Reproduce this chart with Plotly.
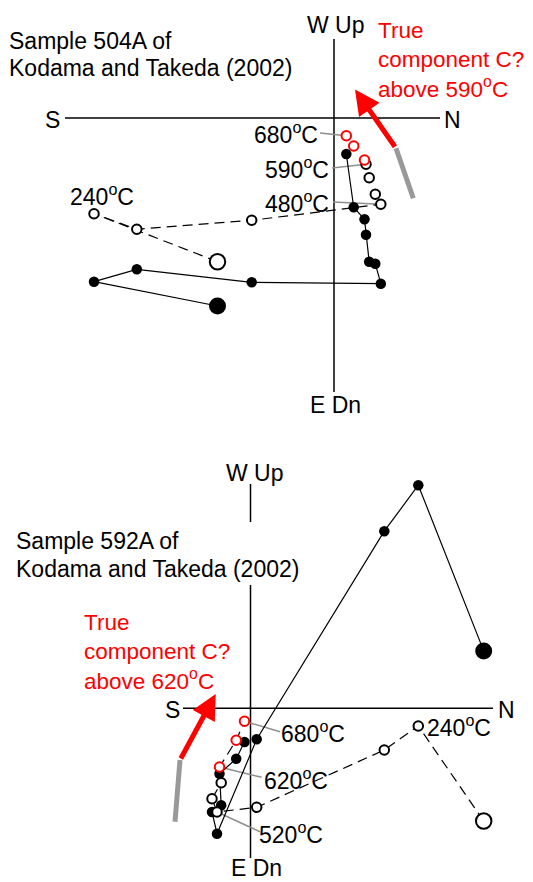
import plotly.graph_objects as go

# ---------------- Data (arbitrary units; origin at axis crossing) ----------------
# Sample 504A: N component (horizontal axis), W component (horizontal projection, filled),
# Up component (vertical projection, open)
n_504 = [-116.5, -240.0, -197.2, -82.3, 46.8, 41.3, 35.2, 32.0, 30.5, 19.7, 12.3]
w_504 = [-188.0, -163.7, -151.3, -164.3, -165.7, -145.7, -143.7, -116.7, -101.3, -89.3, -36.0]
up_504 = [-143.7, -95.7, -111.3, -102.3, -86.3, -76.3, -59.7, -46.3, -42.0, -28.0, -17.7]
red_504 = [False] * 8 + [True] * 3
labels_504 = {10: "680", 7: "590", 4: "480", 1: "240"}

# Sample 592A
n_592 = [233.2, 167.8, 133.8, 6.2, -33.5, -38.5, -29.3, -31.0, -14.3, -6.0]
w_592 = [57.4, 223.1, 177.1, -31.0, -125.4, -103.7, -97.0, -65.4, -50.4, -33.7]
up_592 = [-112.7, -17.7, -41.7, -99.0, -103.7, -90.4, -74.4, -58.7, -32.0, -13.0]
red_592 = [False] * 7 + [True] * 3
labels_592 = {9: "680", 7: "620", 4: "520", 1: "240"}

W, H = 533, 882
FONT = "Liberation Sans, Arial, sans-serif"
FS = 23

fig = go.Figure()


def add_sample(n, w, up, red, xa, ya, n_dash):
    fig.add_trace(go.Scatter(
        x=n, y=w, mode="lines", xaxis=xa, yaxis=ya, opacity=1,
        line=dict(color="black", width=1.2),
        showlegend=False, hoverinfo="skip"))
    fig.add_trace(go.Scatter(
        x=n, y=w, mode="markers", xaxis=xa, yaxis=ya, opacity=1,
        marker=dict(color="#000000", opacity=1, size=[17] + [10.5] * (len(n) - 1),
                    line=dict(width=0)),
        showlegend=False, hoverinfo="skip"))
    fig.add_trace(go.Scatter(
        x=n[:n_dash], y=up[:n_dash], mode="lines", xaxis=xa, yaxis=ya, opacity=1,
        line=dict(color="black", width=1.2, dash="10px,6px"),
        showlegend=False, hoverinfo="skip"))
    fig.add_trace(go.Scatter(
        x=n, y=up, mode="markers", xaxis=xa, yaxis=ya, opacity=1,
        marker=dict(color="white", opacity=1, size=[15.5] + [9.5] * (len(n) - 1),
                    line=dict(width=2, color=["#ff0000" if r else "#000000" for r in red])),
        showlegend=False, hoverinfo="skip"))


add_sample(n_504, w_504, up_504, red_504, "x", "y", 5)
add_sample(n_592, w_592, up_592, red_592, "x2", "y2", len(n_592))

# Pixel origins of the two diagrams
OX1, OY1 = 334.0, 118.0
OX2, OY2 = 250.5, 708.3

shapes = []


def seg(x0, y0, x1, y1, xr, yr, color="black", width=1.5):
    shapes.append(dict(type="line", x0=x0, y0=y0, x1=x1, y1=y1, xref=xr, yref=yr,
                       line=dict(color=color, width=width), layer="below"))


# Axes of diagram 1
seg(65 - OX1, 0, 440 - OX1, 0, "x", "y")
seg(0, OY1 - 39, 0, OY1 - 392, "x", "y")
# Axes of diagram 2 (vertical broken by the title text)
seg(183 - OX2, 0, 493 - OX2, 0, "x2", "y2")
seg(0, OY2 - 484, 0, OY2 - 522, "x2", "y2")
seg(0, OY2 - 585, 0, OY2 - 858, "x2", "y2")

GRAY = "#8f8f8f"
# Label connectors (from label end to the open point)
conn1 = {10: (320, 133), 7: (332, 168), 4: (333, 202)}
for i, (px, py) in conn1.items():
    seg(px - OX1, OY1 - py, n_504[i], up_504[i], "x", "y", GRAY, 1.5)
conn2 = {9: (280, 731.7), 7: (261.7, 777.3), 4: (260, 831.7)}
for i, (px, py) in conn2.items():
    seg(px - OX2, OY2 - py, n_592[i], up_592[i], "x2", "y2", GRAY, 1.5)

# Gray thick segments
seg(413.3 - OX1, OY1 - 198.3, 396 - OX1, OY1 - 148.3, "x", "y", "#999999", 5)
seg(175 - OX2, OY2 - 821.7, 180 - OX2, OY2 - 760, "x2", "y2", "#999999", 5)

annotations = []
# Red arrows
annotations.append(dict(x=355 - OX1, y=OY1 - 89.4, ax=396 - OX1, ay=OY1 - 148.3,
                        xref="x", yref="y", axref="x", ayref="y", text="", showarrow=True,
                        arrowhead=2, arrowsize=1, arrowwidth=5, arrowcolor="red", standoff=0))
annotations.append(dict(x=215.7 - OX2, y=OY2 - 694, ax=180 - OX2, ay=OY2 - 760,
                        xref="x2", yref="y2", axref="x2", ayref="y2", text="", showarrow=True,
                        arrowhead=2, arrowsize=1, arrowwidth=5, arrowcolor="red", standoff=0))


def txt(t, px, py, anchor="left", color="black", size=FS):
    annotations.append(dict(text=t, x=px / W, y=1 - py / H, xref="paper", yref="paper",
                            xanchor=anchor, yanchor="middle", showarrow=False, align="left",
                            font=dict(family=FONT, size=size, color=color)))


deg = "<sup>o</sup>C"
# Diagram 1 texts
txt("W Up", 336, 24.5, "center")
txt("Sample 504A of", 7, 41)
txt("Kodama and Takeda (2002)", 7, 68)
txt("True<br>component C?<br>above 590" + deg, 376, 60, color="red", size=22.5)
txt("S", 52, 120, "center")
txt("N", 452, 120, "center")
txt("E Dn", 335, 405, "center")
txt(labels_504[10] + deg, 320, 133, "right")
txt(labels_504[7] + deg, 331, 168, "right")
txt(labels_504[4] + deg, 331, 202, "right")
txt(labels_504[1] + deg, 68, 195, "left")

# Diagram 2 texts
txt("W Up", 255, 473, "center")
txt("Sample 592A of", 14, 540.5)
txt("Kodama and Takeda (2002)", 14, 568.5)
txt("True<br>component C?<br>above 620" + deg, 82, 652, color="red", size=22.5)
txt("S", 172, 709.5, "center")
txt("N", 506, 709.5, "center")
txt("E Dn", 256, 868, "center")
txt(labels_592[9] + deg, 279, 732, "left")
txt(labels_592[7] + deg, 262, 779, "left")
txt(labels_592[4] + deg, 257, 833, "left")
txt(labels_592[1] + deg, 425, 726, "left")

ax_common = dict(visible=False, showgrid=False, zeroline=False, fixedrange=True)
fig.update_layout(
    width=W, height=H, margin=dict(l=0, r=0, t=0, b=0),
    paper_bgcolor="white", plot_bgcolor="white",
    xaxis=dict(domain=[0, 1], range=[-OX1, W - OX1], **ax_common),
    yaxis=dict(domain=[0, 1], range=[OY1 - H, OY1], **ax_common),
    xaxis2=dict(domain=[0, 1], range=[-OX2, W - OX2], overlaying="x", anchor="y2", **ax_common),
    yaxis2=dict(domain=[0, 1], range=[OY2 - H, OY2], overlaying="y", anchor="x2", **ax_common),
    shapes=shapes, annotations=annotations, showlegend=False,
)

fig.write_html("out.html")
